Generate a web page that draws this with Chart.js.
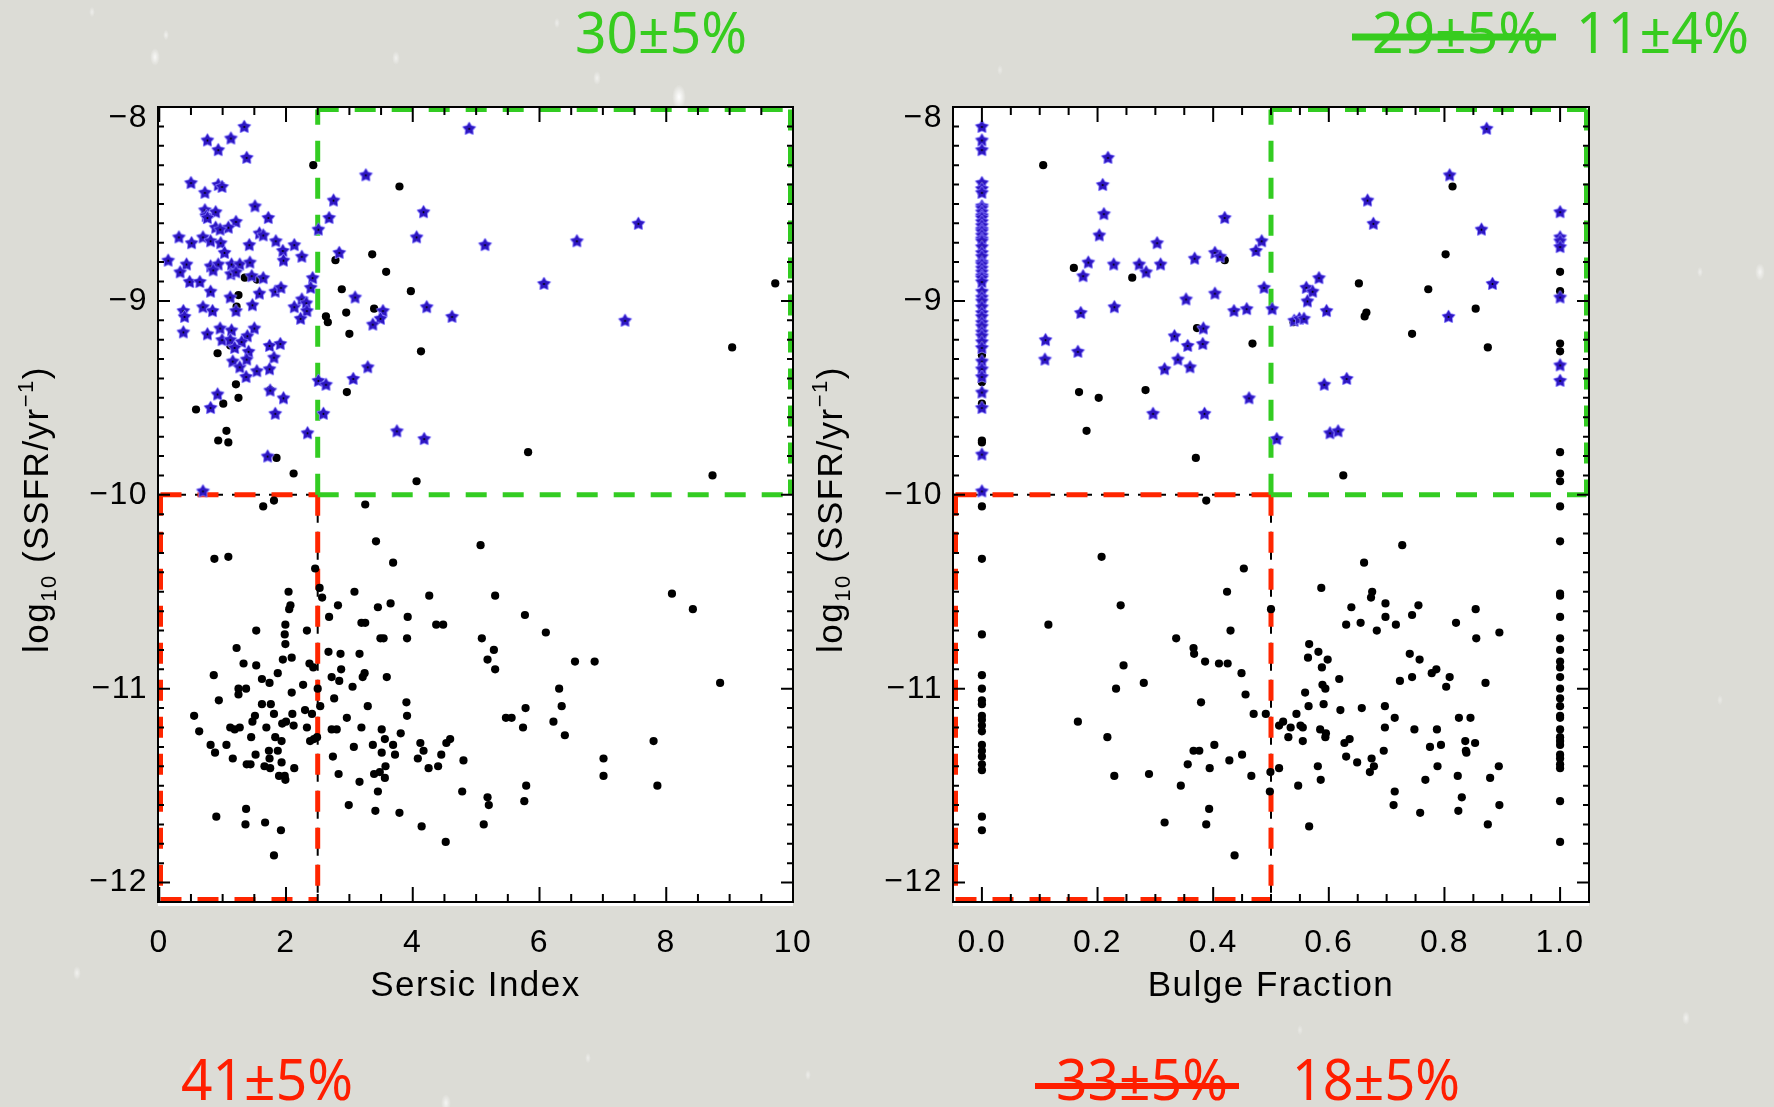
<!DOCTYPE html>
<html>
<head>
<meta charset="utf-8">
<title>SSFR vs galaxy structure</title>
<script src="https://cdn.jsdelivr.net/npm/chart.js@4.4.1/dist/chart.umd.min.js"></script>
<style>
  html, body { margin: 0; padding: 0; }
  body { width: 1774px; height: 1107px; background: #dcdcd6; position: relative; overflow: hidden; }
  canvas { position: absolute; top: 0; }
  #backdrop { left: 0; }
  #sersic { left: 0; }
  #bulge { left: 800px; }
  #notes { left: 0; pointer-events: none; }
</style>
</head>
<body>
<canvas id="backdrop" width="1774" height="1107"></canvas>
<canvas id="sersic" width="840" height="1107"></canvas>
<canvas id="bulge" width="974" height="1107"></canvas>
<canvas id="notes" width="1774" height="1107"></canvas>
<script>
// ---- axes ----
const SSFR_RANGE = [-12.1, -8.0];
const SERSIC_RANGE = [-0.02, 10.0];
const BULGE_RANGE = [-0.05, 1.05];
const SSFR_TICKS = [-12, -11, -10, -9, -8];
const SSFR_TICK_LABELS = ['\u221212', '\u221211', '\u221210', '\u22129', '\u22128'];
const SERSIC_TICKS = [0, 2, 4, 6, 8, 10];
const SERSIC_TICK_LABELS = ['0', '2', '4', '6', '8', '10'];
const BULGE_TICKS = [0, 0.2, 0.4, 0.6, 0.8, 1.0];
const BULGE_TICK_LABELS = ['0.0', '0.2', '0.4', '0.6', '0.8', '1.0'];

// ---- selection cuts ----
const SSFR_CUT = -10;
const SERSIC_CUT = 2.5;
const BULGE_CUT = 0.5;

// ---- fractions in each selection box ----
const SERSIC_SF_FRACTION = '30\u00b15%';
const SERSIC_PASSIVE_FRACTION = '41\u00b15%';
const BULGE_SF_FRACTION_OLD = '29\u00b15%';
const BULGE_SF_FRACTION = '11\u00b14%';
const BULGE_PASSIVE_FRACTION_OLD = '33\u00b15%';
const BULGE_PASSIVE_FRACTION = '18\u00b15%';

// ---- Sersic index vs log SSFR ----
const SERSIC_STARS = [
  [1.34,-8.10],[0.76,-8.17],[1.13,-8.16],[0.93,-8.22],[1.38,-8.26],[4.89,-8.11],[3.26,-8.35],[0.50,-8.39],
  [0.72,-8.44],[0.93,-8.40],[0.99,-8.41],[2.75,-8.48],[1.51,-8.51],[4.17,-8.54],[0.72,-8.53],[0.74,-8.56],
  [0.89,-8.54],[0.76,-8.57],[2.68,-8.57],[1.72,-8.57],[1.21,-8.59],[1.09,-8.62],[0.89,-8.62],[0.96,-8.63],
  [2.51,-8.63],[0.31,-8.67],[0.69,-8.67],[0.81,-8.69],[0.51,-8.70],[0.97,-8.70],[1.58,-8.65],[1.64,-8.66],
  [1.42,-8.71],[1.84,-8.69],[2.13,-8.71],[4.06,-8.67],[5.14,-8.71],[1.03,-8.75],[1.95,-8.74],[1.96,-8.79],
  [2.25,-8.77],[2.84,-8.75],[0.14,-8.79],[0.43,-8.81],[0.81,-8.82],[0.93,-8.81],[0.85,-8.84],[1.14,-8.81],
  [1.27,-8.81],[1.43,-8.80],[1.13,-8.86],[1.21,-8.85],[0.33,-8.85],[0.48,-8.90],[0.64,-8.90],[1.46,-8.87],
  [1.64,-8.88],[2.42,-8.88],[2.39,-8.93],[0.81,-8.95],[1.58,-8.96],[1.83,-8.95],[1.92,-8.93],[1.12,-8.98],
  [3.09,-8.98],[0.69,-9.03],[0.84,-9.05],[1.21,-9.05],[1.47,-9.02],[2.13,-9.03],[2.25,-8.99],[2.32,-9.01],
  [2.33,-9.05],[2.23,-9.09],[3.53,-9.05],[4.22,-9.03],[4.62,-9.08],[3.49,-9.09],[3.37,-9.12],[0.38,-9.05],
  [0.40,-9.08],[0.38,-9.16],[0.76,-9.17],[0.96,-9.14],[1.14,-9.15],[1.50,-9.14],[1.39,-9.18],[0.99,-9.20],
  [1.12,-9.20],[1.30,-9.21],[1.19,-9.24],[1.74,-9.23],[1.91,-9.22],[1.41,-9.26],[1.16,-9.31],[1.27,-9.34],
  [1.38,-9.30],[1.81,-9.29],[1.54,-9.36],[1.74,-9.35],[1.37,-9.39],[3.29,-9.34],[3.06,-9.40],[2.51,-9.41],
  [2.63,-9.43],[0.92,-9.48],[1.75,-9.46],[1.96,-9.50],[0.81,-9.55],[1.83,-9.58],[2.59,-9.58],[2.34,-9.68],
  [3.75,-9.67],[4.18,-9.71],[1.71,-9.80],[0.69,-9.98],[6.59,-8.69],[7.56,-8.60],[6.07,-8.91],[7.35,-9.10]
];
const SERSIC_DOTS = [
  [2.43,-8.30],[3.79,-8.41],[2.78,-8.79],[3.36,-8.76],[3.58,-8.85],[1.35,-8.88],[1.54,-8.89],[2.88,-8.94],
  [3.97,-8.95],[1.25,-8.97],[1.22,-9.03],[2.63,-9.08],[2.66,-9.11],[2.95,-9.06],[3.39,-9.04],[3.00,-9.17],
  [0.92,-9.27],[1.12,-9.23],[4.13,-9.26],[1.21,-9.43],[1.25,-9.50],[1.01,-9.53],[0.58,-9.56],[2.96,-9.47],
  [1.75,-9.46],[1.06,-9.67],[0.93,-9.72],[1.09,-9.73],[1.85,-9.81],[2.12,-9.89],[4.06,-9.93],[1.64,-10.06],
  [1.81,-10.03],[3.25,-10.05],[9.72,-8.91],[9.04,-9.24],[5.82,-9.78],[8.73,-9.90],
  [3.42,-10.24],[5.07,-10.26],[3.69,-10.35],[0.87,-10.33],[1.09,-10.32],[2.46,-10.38],[2.04,-10.50],[2.53,-10.48],
  [2.57,-10.53],[3.08,-10.50],[4.26,-10.52],[2.07,-10.57],[2.05,-10.59],[2.82,-10.57],[3.45,-10.58],[3.65,-10.56],
  [2.68,-10.63],[3.92,-10.63],[1.99,-10.67],[3.19,-10.66],[3.25,-10.66],[4.37,-10.67],[4.48,-10.67],[1.53,-10.70],
  [2.33,-10.70],[1.98,-10.72],[1.99,-10.77],[3.49,-10.74],[3.54,-10.74],[3.91,-10.74],[5.09,-10.74],[1.22,-10.79],
  [2.67,-10.81],[2.86,-10.82],[3.16,-10.82],[2.09,-10.84],[1.95,-10.85],[1.33,-10.87],[1.53,-10.88],[2.37,-10.87],
  [2.43,-10.89],[2.87,-10.90],[5.18,-10.85],[0.86,-10.93],[1.87,-10.92],[1.62,-10.95],[1.74,-10.97],[2.72,-10.94],
  [3.21,-10.94],[3.24,-10.92],[3.59,-10.94],[2.84,-10.96],[3.05,-10.99],[2.27,-10.98],[1.25,-11.00],[1.37,-11.00],
  [1.25,-11.03],[2.09,-11.02],[2.50,-11.00],[0.94,-11.06],[1.62,-11.08],[1.76,-11.08],[2.54,-11.09],[2.76,-11.05],
  [3.29,-11.09],[3.90,-11.07],[3.91,-11.14],[0.55,-11.14],[1.81,-11.13],[1.51,-11.14],[1.47,-11.17],[2.10,-11.13],
  [2.30,-11.11],[2.41,-11.13],[0.63,-11.22],[1.12,-11.20],[1.19,-11.21],[1.27,-11.20],[1.69,-11.20],[1.94,-11.18],
  [2.00,-11.17],[2.12,-11.19],[2.33,-11.20],[2.96,-11.15],[2.72,-11.21],[2.80,-11.21],[3.19,-11.20],[3.51,-11.21],
  [3.81,-11.23],[1.45,-11.25],[1.83,-11.25],[1.93,-11.27],[2.38,-11.27],[2.44,-11.26],[2.49,-11.25],[3.56,-11.26],
  [0.81,-11.29],[1.06,-11.29],[0.88,-11.33],[3.07,-11.30],[3.37,-11.29],[3.69,-11.29],[4.12,-11.28],[4.59,-11.26],
  [4.53,-11.28],[1.73,-11.32],[1.87,-11.32],[1.16,-11.36],[1.52,-11.34],[1.74,-11.36],[2.74,-11.35],[3.51,-11.33],
  [3.72,-11.34],[4.17,-11.32],[4.08,-11.36],[4.45,-11.34],[4.80,-11.37],[1.38,-11.39],[1.44,-11.39],[1.66,-11.40],
  [1.75,-11.41],[1.93,-11.38],[2.13,-11.41],[3.57,-11.40],[4.25,-11.41],[4.40,-11.40],[2.83,-11.44],[1.89,-11.45],
  [1.98,-11.45],[1.99,-11.47],[3.16,-11.48],[3.39,-11.44],[3.48,-11.43],[3.56,-11.46],[3.45,-11.53],[4.78,-11.53],
  [5.18,-11.56],[5.20,-11.60],[2.99,-11.60],[3.41,-11.63],[3.79,-11.64],[0.90,-11.66],[1.37,-11.62],[1.36,-11.70],
  [1.67,-11.69],[1.92,-11.73],[4.14,-11.71],[5.12,-11.70],[4.52,-11.79],[1.81,-11.86],
  [5.30,-10.52],[5.77,-10.62],[6.10,-10.71],[5.28,-10.80],[5.30,-10.90],[6.56,-10.86],[6.87,-10.86],[8.09,-10.51],
  [8.42,-10.59],[8.85,-10.97],[6.31,-11.00],[6.35,-11.09],[5.78,-11.10],[5.47,-11.15],[5.56,-11.15],[6.22,-11.17],
  [5.74,-11.20],[6.40,-11.24],[7.80,-11.27],[7.01,-11.36],[7.01,-11.45],[7.86,-11.50],[5.79,-11.50],[5.76,-11.58]
];

// ---- bulge fraction vs log SSFR ----
const BULGE_STARS = [
  [0,-8.10],[0,-8.17],[0,-8.22],[0,-8.39],[0,-8.42],[0,-8.44],[0,-8.51],[0,-8.52],[0,-8.54],[0,-8.56],
  [0,-8.57],[0,-8.59],[0,-8.61],[0,-8.63],[0,-8.64],[0,-8.66],[0,-8.68],[0,-8.69],[0,-8.72],[0,-8.75],
  [0,-8.77],[0,-8.80],[0,-8.81],[0,-8.83],[0,-8.85],[0,-8.87],[0,-8.88],[0,-8.90],[0,-8.95],[0,-8.98],
  [0,-9.00],[0,-9.03],[0,-9.06],[0,-9.08],[0,-9.11],[0,-9.13],[0,-9.16],[0,-9.18],[0,-9.21],[0,-9.24],
  [0,-9.31],[0,-9.35],[0,-9.39],[0,-9.47],[0,-9.55],[0,-9.79],[0,-9.98],
  [0.218,-8.26],[0.209,-8.40],[0.211,-8.55],[0.203,-8.66],[0.303,-8.70],[0.420,-8.57],[0.184,-8.80],[0.175,-8.87],
  [0.228,-8.81],[0.272,-8.81],[0.284,-8.85],[0.309,-8.81],[0.368,-8.78],[0.403,-8.75],[0.412,-8.77],[0.474,-8.74],
  [0.484,-8.69],[0.488,-8.93],[0.171,-9.06],[0.229,-9.03],[0.353,-8.99],[0.403,-8.96],[0.436,-9.05],[0.458,-9.04],
  [0.502,-9.04],[0.110,-9.20],[0.109,-9.30],[0.166,-9.26],[0.333,-9.18],[0.383,-9.14],[0.356,-9.23],[0.382,-9.22],
  [0.339,-9.30],[0.316,-9.35],[0.360,-9.34],[0.462,-9.50],[0.296,-9.58],[0.385,-9.58],[0.510,-9.71],
  [0.873,-8.11],[0.809,-8.35],[0.667,-8.48],[0.677,-8.60],[0.864,-8.63],[0.583,-8.88],[0.561,-8.93],[0.572,-8.95],
  [0.563,-9.00],[0.596,-9.05],[0.540,-9.10],[0.549,-9.09],[0.557,-9.09],[0.883,-8.91],[0.807,-9.08],[0.592,-9.43],
  [0.631,-9.40],[0.602,-9.68],[0.616,-9.67],
  [1,-8.54],[1,-8.67],[1,-8.69],[1,-8.72],[1,-8.98],[1,-9.33],[1,-9.41]
];
const BULGE_DOTS = [
  [0,-9.28],[0,-9.42],[0,-9.53],[0,-9.72],[0,-9.73],[0,-10.06],[0,-10.33],[0,-10.72],[0,-10.93],[0,-11.00],
  [0,-11.06],[0,-11.08],[0,-11.14],[0,-11.16],[0,-11.19],[0,-11.22],[0,-11.29],[0,-11.32],[0,-11.35],[0,-11.39],
  [0,-11.42],[0,-11.66],[0,-11.73],
  [0.106,-8.30],[0.159,-8.83],[0.260,-8.88],[0.420,-8.79],[0.372,-9.14],[0.468,-9.22],[0.168,-9.47],[0.202,-9.50],
  [0.283,-9.46],[0.181,-9.67],[0.370,-9.81],[0.388,-10.03],
  [0.814,-8.41],[0.802,-8.76],[0.652,-8.91],[0.772,-8.94],[0.665,-9.06],[0.662,-9.08],[0.854,-9.04],[0.744,-9.17],
  [0.875,-9.24],[0.539,-9.11],[0.625,-9.90],
  [1,-8.85],[1,-8.95],[1,-9.22],[1,-9.26],[1,-9.78],[1,-9.89],[1,-9.93],[1,-10.06],
  [0.207,-10.32],[0.453,-10.38],[0.424,-10.50],[0.240,-10.57],[0.500,-10.59],[0.115,-10.67],[0.430,-10.70],[0.336,-10.74],
  [0.366,-10.79],[0.367,-10.82],[0.386,-10.86],[0.410,-10.87],[0.425,-10.87],[0.245,-10.88],[0.449,-10.92],[0.280,-10.97],
  [0.232,-11.00],[0.456,-11.03],[0.379,-11.07],[0.470,-11.13],[0.491,-11.13],[0.514,-11.19],[0.166,-11.17],[0.217,-11.25],
  [0.366,-11.32],[0.376,-11.32],[0.402,-11.29],[0.450,-11.34],[0.428,-11.37],[0.356,-11.39],[0.394,-11.41],[0.229,-11.45],
  [0.289,-11.44],[0.466,-11.45],[0.499,-11.43],[0.514,-11.41],[0.344,-11.50],[0.498,-11.53],[0.393,-11.62],[0.316,-11.69],
  [0.388,-11.70],[0.437,-11.86],
  [0.727,-10.26],[0.661,-10.35],[0.587,-10.48],[0.675,-10.50],[0.673,-10.53],[0.639,-10.58],[0.698,-10.56],[0.755,-10.57],
  [0.854,-10.59],[0.630,-10.67],[0.655,-10.66],[0.698,-10.63],[0.716,-10.67],[0.744,-10.62],[0.683,-10.70],[0.820,-10.66],
  [0.895,-10.71],[0.855,-10.74],[0.566,-10.77],[0.564,-10.84],[0.582,-10.81],[0.598,-10.85],[0.588,-10.89],[0.740,-10.82],
  [0.757,-10.85],[0.618,-10.95],[0.589,-10.98],[0.594,-11.00],[0.723,-10.96],[0.744,-10.94],[0.778,-10.92],[0.786,-10.90],
  [0.809,-10.94],[0.803,-10.99],[0.871,-10.97],[0.559,-11.02],[0.565,-11.09],[0.591,-11.08],[0.620,-11.11],[0.657,-11.10],
  [0.697,-11.09],[0.714,-11.15],[0.544,-11.13],[0.521,-11.17],[0.534,-11.20],[0.551,-11.19],[0.555,-11.20],[0.530,-11.25],
  [0.555,-11.27],[0.585,-11.21],[0.595,-11.23],[0.594,-11.25],[0.697,-11.20],[0.748,-11.21],[0.787,-11.21],[0.825,-11.15],
  [0.845,-11.15],[0.627,-11.28],[0.636,-11.26],[0.630,-11.35],[0.649,-11.38],[0.695,-11.32],[0.674,-11.36],[0.678,-11.40],
  [0.671,-11.43],[0.775,-11.30],[0.794,-11.29],[0.836,-11.27],[0.853,-11.28],[0.837,-11.32],[0.838,-11.33],[0.788,-11.40],
  [0.581,-11.40],[0.586,-11.47],[0.547,-11.50],[0.714,-11.53],[0.712,-11.60],[0.767,-11.47],[0.823,-11.45],[0.830,-11.56],
  [0.824,-11.63],[0.758,-11.64],[0.879,-11.46],[0.894,-11.40],[0.895,-11.60],[0.875,-11.70],[0.566,-11.71],
  [1,-10.24],[1,-10.51],[1,-10.52],[1,-10.63],[1,-10.74],[1,-10.80],[1,-10.86],[1,-10.89],[1,-10.94],[1,-11.00],
  [1,-11.05],[1,-11.09],[1,-11.14],[1,-11.15],[1,-11.21],[1,-11.25],[1,-11.27],[1,-11.29],[1,-11.34],[1,-11.36],
  [1,-11.39],[1,-11.41],[1,-11.58],[1,-11.79]
];

// ---- styling ----
const AXIS_FONT = '"Liberation Sans", Arial, sans-serif';
const NOTE_FONT = '"Noto Sans", "Open Sans", sans-serif';
const SF_GREEN = '#33cc22';
const PASSIVE_RED = '#ff2600';
const TEXT_GREEN = '#37cc1f';
const TEXT_RED = '#ff1e00';

// soft light flecks of the slide background
(function paintBackdrop() {
  const g = document.getElementById('backdrop').getContext('2d');
  const flecks = [
    [679, 97, 7, 1.0], [155, 57, 5, 0.8], [166, 35, 3, 0.6], [396, 58, 4, 0.6], [597, 78, 4, 0.6],
    [557, 23, 3, 0.5], [92, 12, 3, 0.5], [1760, 272, 5, 0.7], [1700, 272, 3, 0.5], [77, 973, 4, 0.6],
    [192, 1069, 3, 0.5], [446, 1103, 5, 0.7], [588, 1058, 3, 0.5], [808, 1075, 3, 0.5], [1686, 1018, 4, 0.6],
    [1300, 1030, 3, 0.4], [1000, 70, 3, 0.4], [1210, 110, 3, 0.4], [30, 640, 3, 0.4], [1720, 700, 3, 0.4]
  ];
  for (const [x, y, r, a] of flecks) {
    g.save();
    g.translate(x, y);
    g.scale(1, 1.8);
    const grad = g.createRadialGradient(0, 0, 0, 0, 0, r);
    grad.addColorStop(0, 'rgba(255,255,255,' + a + ')');
    grad.addColorStop(1, 'rgba(255,255,255,0)');
    g.fillStyle = grad;
    g.beginPath();
    g.arc(0, 0, r, 0, 2 * Math.PI);
    g.fill();
    g.restore();
  }
})();

function starMarker(r) {
  const size = Math.ceil(2 * r + 4);
  const c = document.createElement('canvas');
  c.width = c.height = size;
  const g = c.getContext('2d');
  const cx = size / 2, cy = size / 2 + 0.5;
  g.beginPath();
  for (let i = 0; i < 10; i++) {
    const a = -Math.PI / 2 + i * Math.PI / 5;
    const rr = i % 2 === 0 ? r : r * 0.56;
    g.lineTo(cx + rr * Math.cos(a), cy + rr * Math.sin(a));
  }
  g.closePath();
  g.strokeStyle = '#8a80ff';
  g.lineWidth = 1.6;
  g.lineJoin = 'round';
  g.stroke();
  g.fillStyle = '#2d16c2';
  g.fill();
  g.fillStyle = '#000';
  g.beginPath();
  g.arc(cx, cy, 1, 0, 2 * Math.PI);
  g.fill();
  return c;
}
const STAR = starMarker(6.4);

const toXY = pts => pts.map(([x, y]) => ({ x, y }));

function eachTick(min, max, minor, major, fn) {
  const k0 = Math.ceil(min / minor - 1e-6), k1 = Math.floor(max / minor + 1e-6);
  for (let k = k0; k <= k1; k++) {
    const v = k * minor, r = v / major;
    fn(v, Math.abs(r - Math.round(r)) < 1e-6);
  }
}

function dashed(ctx, segs, color, width, dash) {
  ctx.strokeStyle = color;
  ctx.lineWidth = width;
  ctx.setLineDash(dash);
  ctx.lineCap = 'butt';
  for (const [x0, y0, x1, y1] of segs) {
    ctx.beginPath();
    ctx.moveTo(x0, y0);
    ctx.lineTo(x1, y1);
    ctx.stroke();
  }
}

// Frame with inward ticks on all four sides, selection boxes, y labels and y title
const panelFrame = {
  id: 'panelFrame',
  beforeDraw(chart) {
    chart.ctx.letterSpacing = '1.5px';
  },
  beforeDatasetsDraw(chart, args, o) {
    const { ctx, chartArea: a, scales: { x, y } } = chart;
    ctx.save();
    ctx.fillStyle = '#ffffff';
    ctx.fillRect(a.left, a.top, a.right - a.left, a.bottom - a.top + 4);
    const lw = 5, h = lw / 2;
    const L = a.left + h, R = a.right - h, T = a.top + h, B = a.bottom - h;
    const cx = x.getPixelForValue(o.xCut), cy = y.getPixelForValue(o.yCut);
    // thin black cut lines below the red box edges
    dashed(ctx, [[a.left, cy, cx, cy], [cx, cy, cx, a.bottom]], '#000', 2, [28, 9]);
    // passive box (low SSFR, low concentration)
    dashed(ctx, [[L, cy, cx, cy], [cx, cy, cx, B], [L, B, cx, B], [L, cy, L, B]], PASSIVE_RED, lw, [21, 16]);
    // star-forming box (high SSFR, high concentration)
    dashed(ctx, [[cx, cy, cx, T], [cx, T, R, T], [R, T, R, cy], [cx, cy, R, cy]], SF_GREEN, lw, [21, 16]);
    ctx.restore();
  },
  afterDatasetsDraw(chart, args, o) {
    const { ctx, chartArea: a, scales: { x, y } } = chart;
    ctx.save();
    ctx.setLineDash([]);
    ctx.strokeStyle = '#000';
    ctx.lineWidth = 2;
    ctx.strokeRect(a.left, a.top, a.right - a.left, a.bottom - a.top);
    ctx.beginPath();
    eachTick(x.min, x.max, o.xMinor, o.xMajor, (v, major) => {
      const p = x.getPixelForValue(v), len = major ? 15 : 8;
      ctx.moveTo(p, a.bottom); ctx.lineTo(p, a.bottom - len);
      ctx.moveTo(p, a.top); ctx.lineTo(p, a.top + len);
    });
    eachTick(y.min, y.max, o.yMinor, o.yMajor, (v, major) => {
      const p = y.getPixelForValue(v), len = major ? 12 : 6;
      ctx.moveTo(a.left, p); ctx.lineTo(a.left + len, p);
      ctx.moveTo(a.right, p); ctx.lineTo(a.right - len, p);
    });
    ctx.stroke();

    // y tick labels, the top one kept inside the frame height
    ctx.fillStyle = '#000';
    ctx.letterSpacing = '1.5px';
    ctx.font = '32px ' + AXIS_FONT;
    ctx.textAlign = 'right';
    ctx.textBaseline = 'middle';
    SSFR_TICKS.forEach((v, i) => {
      const p = Math.max(y.getPixelForValue(v), a.top + 11);
      ctx.fillText(SSFR_TICK_LABELS[i], a.left - 10, p);
    });

    // y title: log10 (SSFR/yr^-1)
    const parts = [
      { text: 'log', size: 35, dy: 0 },
      { text: '10', size: 22, dy: 8 },
      { text: ' (SSFR/yr', size: 35, dy: 0 },
      { text: '\u22121', size: 22, dy: -15 },
      { text: ')', size: 35, dy: 0 }
    ];
    ctx.translate(o.titleX, (a.top + a.bottom) / 2 + 5);
    ctx.rotate(-Math.PI / 2);
    ctx.textAlign = 'left';
    ctx.textBaseline = 'alphabetic';
    let total = 0;
    for (const p of parts) {
      ctx.font = p.size + 'px ' + AXIS_FONT;
      p.w = ctx.measureText(p.text).width;
      total += p.w;
    }
    let cur = -total / 2;
    for (const p of parts) {
      ctx.font = p.size + 'px ' + AXIS_FONT;
      ctx.fillText(p.text, cur, p.dy);
      cur += p.w;
    }
    ctx.restore();
  }
};

function makePanel(id, cfg) {
  return new Chart(document.getElementById(id), {
    type: 'scatter',
    data: {
      datasets: [
        { label: 'star-forming', data: toXY(cfg.stars), pointStyle: STAR, pointRadius: 6 },
        { label: 'all', data: toXY(cfg.dots), pointStyle: 'circle', pointRadius: 4.1,
          backgroundColor: '#000', borderWidth: 0 }
      ]
    },
    options: {
      responsive: false,
      animation: false,
      devicePixelRatio: 1,
      events: [],
      layout: { padding: cfg.padding },
      plugins: {
        legend: { display: false },
        tooltip: { enabled: false },
        panelFrame: {
          xCut: cfg.xCut, yCut: SSFR_CUT,
          xMinor: cfg.xMinor, xMajor: cfg.xMajor, yMinor: 0.1, yMajor: 1,
          titleX: cfg.titleX
        }
      },
      scales: {
        x: {
          type: 'linear', position: 'bottom',
          min: cfg.xRange[0], max: cfg.xRange[1],
          grid: { display: false }, border: { display: false },
          afterBuildTicks: s => { s.ticks = cfg.xTicks.map(v => ({ value: v })); },
          afterFit: s => { s.height = 110; },
          ticks: {
            autoSkip: false, maxRotation: 0, minRotation: 0, padding: 14, color: '#000',
            font: { family: AXIS_FONT, size: 32 },
            callback: v => cfg.xLabels[cfg.xTicks.indexOf(v)]
          },
          title: {
            display: true, text: cfg.xTitle, color: '#000',
            font: { family: AXIS_FONT, size: 35 },
            padding: { top: 0, bottom: 5 }
          }
        },
        y: {
          type: 'linear', position: 'left',
          min: SSFR_RANGE[0], max: SSFR_RANGE[1],
          grid: { display: false }, border: { display: false },
          ticks: { display: false },
          afterFit: s => { s.width = cfg.yWidth; }
        }
      }
    },
    plugins: [panelFrame]
  });
}

makePanel('sersic', {
  stars: SERSIC_STARS, dots: SERSIC_DOTS,
  xRange: SERSIC_RANGE, xTicks: SERSIC_TICKS, xLabels: SERSIC_TICK_LABELS,
  xMinor: 0.5, xMajor: 2, xCut: SERSIC_CUT, xTitle: 'Sersic Index',
  padding: { left: 0, right: 47, top: 107, bottom: 95 }, yWidth: 158, titleX: 48
});

makePanel('bulge', {
  stars: BULGE_STARS, dots: BULGE_DOTS,
  xRange: BULGE_RANGE, xTicks: BULGE_TICKS, xLabels: BULGE_TICK_LABELS,
  xMinor: 0.05, xMajor: 0.2, xCut: BULGE_CUT, xTitle: 'Bulge Fraction',
  padding: { left: 0, right: 185, top: 107, bottom: 95 }, yWidth: 153, titleX: 42
});

// ---- fraction annotations above and below the panels ----
const notes = document.getElementById('notes').getContext('2d');
function note(text, left, right, baseline, color) {
  notes.save();
  notes.font = '56px ' + NOTE_FONT;
  const w = notes.measureText(text).width;
  notes.translate(left, baseline);
  notes.scale((right - left) / w, 1);
  notes.fillStyle = color;
  notes.textBaseline = 'alphabetic';
  notes.fillText(text, 0, 0);
  notes.restore();
}
function strike(left, right, y, thick, color) {
  notes.fillStyle = color;
  notes.fillRect(left, y - thick / 2, right - left, thick);
}
note(SERSIC_SF_FRACTION, 575, 747, 53, TEXT_GREEN);
note(BULGE_SF_FRACTION_OLD, 1372, 1544, 53, TEXT_GREEN);
strike(1352, 1556, 37, 7, TEXT_GREEN);
note(BULGE_SF_FRACTION, 1576, 1749, 53, TEXT_GREEN);
note(SERSIC_PASSIVE_FRACTION, 181, 353, 1100, TEXT_RED);
note(BULGE_PASSIVE_FRACTION_OLD, 1056, 1228, 1100, TEXT_RED);
strike(1035, 1239, 1086, 6, TEXT_RED);
note(BULGE_PASSIVE_FRACTION, 1292, 1460, 1100, TEXT_RED);
</script>
</body>
</html>
